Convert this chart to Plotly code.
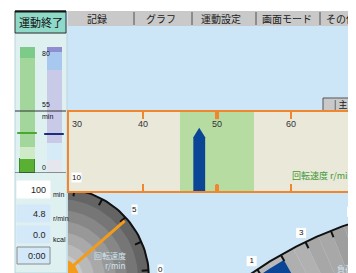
import numpy as np
import plotly.graph_objects as go

W, H = 356, 273          # browser window (screen pixels)
OFF = 8                  # default page margin around the figure
FW, FH = W - OFF, H - OFF

# ---------------- data ----------------
tab_labels = ["記録", "グラフ", "運動設定", "画面モード", "その他"]
end_button_label = "運動終了"
side_button_label = "| 主"

gauge_ticks = [30, 40, 50, 60, 70]
target_zone = [45, 55]
cadence_value = 47.6
gauge_title = "回転速度 r/min"

left_bar_segments = [11.1, 9.5, 70.7, 8.7]
right_bar_segments = [10.3, 13.5, 57.9, 14.3, 4.0]
bar_marker_levels = [31.7, 31.0]
level_lines = [0, 49.2]
level_label_text = ["80", "55", "min", "0"]
level_label_values = [95, 54, 45, 4]

readout_values = ["100", "4.8", "0.0", "0:00"]
readout_units = ["min", "r/min", "kcal", ""]

speed_dial_ticks = [0, 2.5, 5, 7.5, 10, 12.5]
speed_dial_labels = [0, 5, 10]
speed_dial_value = 4.8
speed_dial_title = ["回転速度", "r/min"]

load_dial_ticks = [0, 1, 2, 3, 4, 5, 6]
load_dial_labels = [1, 3, 5]
load_dial_value = 2.0
load_dial_title = "負荷"

# ---------------- styles / geometry ----------------
BG = "#cde6f7"
ORANGE = "#f0862e"
JP = "Noto Sans CJK JP"
NUM = "Liberation Sans"

GX0, GTOP, GBOT = 69, 112, 191
PX_PER_UNIT = 7.4
gx_range = [gauge_ticks[0], gauge_ticks[0] + (W - GX0) / PX_PER_UNIT]

SD_C, SD_R = (59.0, 278.0), 90.0
LD_C, LD_R = (479.3, 602.2), 400.0


def sd_angle(v):
    return np.radians(5 + 7.5 * np.asarray(v, dtype=float))


def ld_angle(v):
    return np.radians(127.7 - 3.98 * np.asarray(v, dtype=float))


def polar(c, r, a):
    return c[0] + r * np.cos(a), c[1] - r * np.sin(a)


def px(x):
    return (x - OFF) / FW


def py(y):
    return 1 - (y - OFF) / FH


def sector(c, r0, r1, a0, a1, n=60):
    a = np.linspace(a0, a1, n)
    xo, yo = polar(c, r1, a)
    xi, yi = polar(c, r0, a[::-1])
    return np.concatenate([xo, xi, xo[:1]]), np.concatenate([yo, yi, yo[:1]])


fig = go.Figure()


def poly(xs, ys, color, xa="x", ya="y"):
    fig.add_trace(go.Scatter(x=xs, y=ys, mode="lines", fill="toself", fillcolor=color,
                             line=dict(width=0, color=color), hoverinfo="skip",
                             showlegend=False, xaxis=xa, yaxis=ya))


def lines(segs, color, width, xa="x", ya="y"):
    xs, ys = [], []
    for (x0, y0), (x1, y1) in segs:
        xs += [x0, x1, None]
        ys += [y0, y1, None]
    fig.add_trace(go.Scatter(x=xs, y=ys, mode="lines", line=dict(color=color, width=width),
                             hoverinfo="skip", showlegend=False, xaxis=xa, yaxis=ya))


# ---------------- right (load) dial ----------------
wedge_vals = np.arange(-2.0, 9.0, 0.5)
for i, v in enumerate(wedge_vals[:-1]):
    f = min(max((v + 0.5) / 7.0, 0), 1)
    g = int(196 - 58 * f)
    if i % 2:
        g += 6
    xs, ys = sector(LD_C, 0, LD_R, ld_angle(v), ld_angle(v + 0.5), n=8)
    poly(xs, ys, f"rgb({g},{g},{g})")
xs, ys = sector(LD_C, LD_R - 40, LD_R - 6, ld_angle(-1), ld_angle(load_dial_value))
poly(xs, ys, "#0b4596")
arc = np.linspace(ld_angle(-2), ld_angle(9), 200)
ax_, ay_ = polar(LD_C, LD_R, arc)
fig.add_trace(go.Scatter(x=ax_, y=ay_, mode="lines", line=dict(color="#111", width=2),
                         hoverinfo="skip", showlegend=False))
lines([(polar(LD_C, LD_R, ld_angle(v)), polar(LD_C, LD_R - 7, ld_angle(v))) for v in load_dial_ticks],
      "#111", 2)
# load dial labels (white boxes with numbers), kept inside the window
lx, ly = polar(LD_C, LD_R + 10, ld_angle(load_dial_labels))
lx = np.minimum(lx, W - 4)
fig.add_trace(go.Scatter(x=lx, y=ly, mode="markers+text", text=[str(s) for s in load_dial_labels],
                         textposition="middle center", cliponaxis=False,
                         marker=dict(symbol="square", size=10, color="white", line=dict(width=0)),
                         textfont=dict(size=8, color="#111", family=NUM),
                         hoverinfo="skip", showlegend=False))

# ---------------- left (speed) dial ----------------
ring_radii = [SD_R, 79, 68, 57, 46, 35, 24]
ring_cols = ["#646464", "#767676", "#878787", "#989898", "#a9a9a9", "#b9b9b9", "#c8c8c8"]
t = np.linspace(0, 2 * np.pi, 180)
for r, c in zip(ring_radii, ring_cols):
    xs, ys = polar(SD_C, r, t)
    poly(xs, ys, c)
ax_, ay_ = polar(SD_C, SD_R, t)
fig.add_trace(go.Scatter(x=ax_, y=ay_, mode="lines", line=dict(color="#111", width=2),
                         hoverinfo="skip", showlegend=False))
lines([(polar(SD_C, SD_R, sd_angle(v)), polar(SD_C, SD_R - 7, sd_angle(v))) for v in speed_dial_ticks],
      "#111", 2)
lines([(SD_C, polar(SD_C, SD_R - 3, sd_angle(speed_dial_value)))], "#f39c1a", 3)
xs, ys = polar(SD_C, 20, t)
poly(xs, ys, "#f39c1a")

# ---------------- main gauge ----------------
v = cadence_value
bw, sh, tip = 1.6, 0.68, 0.80
fig.add_trace(go.Scatter(x=[v - bw / 2, v - bw / 2, v, v + bw / 2, v + bw / 2, v - bw / 2],
                         y=[0, sh, tip, sh, 0, 0], mode="lines", fill="toself",
                         fillcolor="#0b4596", line=dict(width=0), hoverinfo="skip",
                         showlegend=False, xaxis="x2", yaxis="y2"))

# ---------------- left bars ----------------
left_cols = ["#5ab033", "#cfeac6", "#a3d69b", "#7dcb89"]
right_cols = ["#e6e6ee", "#d6eaf8", "#c9c9e8", "#a9c8ef", "#8e8ed0"]
for i, (s, c) in enumerate(zip(left_bar_segments, left_cols)):
    fig.add_trace(go.Bar(x=[0], y=[s], width=0.52, marker=dict(color=c, line=dict(
        width=1 if i == 0 else 0, color="#3a8a2a")), xaxis="x3", yaxis="y3",
        showlegend=False, hoverinfo="skip"))
for s, c in zip(right_bar_segments, right_cols):
    fig.add_trace(go.Bar(x=[1], y=[s], width=0.52, marker=dict(color=c, line=dict(width=0)),
                         xaxis="x3", yaxis="y3", showlegend=False, hoverinfo="skip"))
fig.add_trace(go.Scatter(x=[0, 1], y=bar_marker_levels, mode="markers",
                         marker=dict(symbol="line-ew", size=14,
                                     line=dict(width=2, color=["#4aa832", "#1d2f7a"])),
                         xaxis="x3", yaxis="y3", showlegend=False, hoverinfo="skip"))

# ---------------- shapes (UI chrome) ----------------
shapes = []


def rect(x0, y0, x1, y1, fill, line=None, lw=0, layer="below"):
    shapes.append(dict(type="rect", xref="paper", yref="paper", x0=px(x0), x1=px(x1),
                       y0=py(y0), y1=py(y1), fillcolor=fill, layer=layer,
                       line=dict(width=lw, color=line or fill)))


rect(OFF, OFF, W, 11, "white")
rect(OFF, OFF, 15, H, "white")
rect(68, 11, W, 26, "#c9c9c9")
for sx in [134, 192, 256, 320]:
    shapes.append(dict(type="line", xref="paper", yref="paper", x0=px(sx), x1=px(sx),
                       y0=py(12), y1=py(25), line=dict(color="#505050", width=1)))
rect(15, 33, 67, H, "#dff0f1", "#b8d6de", 1)
rect(15, 11, 66, 33, "#8fd9c9", "#303030", 1)
shapes.append(dict(type="line", xref="paper", yref="paper", x0=px(15), x1=px(66),
                   y0=py(11.5), y1=py(11.5), line=dict(color="#111", width=2)))
rect(323, 98, W, 112, "#c9c9c9", "#555", 1)
# readout boxes
box_tops = [181, 205, 226, 247]
for i, top in enumerate(box_tops):
    rect(17, top, 50, top + 17, "white" if i == 0 else "#d3e9f9",
         "#8a8a8a" if i == 3 else ("white" if i == 0 else "#d3e9f9"), 1)
# gauge background & target zone
shapes.append(dict(type="rect", xref="x2 domain", yref="y2 domain", x0=0, x1=1, y0=0, y1=1,
                   fillcolor="#eae8d9", line=dict(width=0), layer="below"))
shapes.append(dict(type="rect", xref="x2", yref="y2 domain", x0=target_zone[0], x1=target_zone[1],
                   y0=0, y1=1, fillcolor="#b6dca2", line=dict(width=0), layer="below"))
shapes.append(dict(type="line", xref="x2", yref="y2 domain", x0=50, x1=50, y0=1, y1=0.91,
                   line=dict(color=ORANGE, width=4), layer="above"))
shapes.append(dict(type="line", xref="x2", yref="y2 domain", x0=50, x1=50, y0=0, y1=0.08,
                   line=dict(color=ORANGE, width=4), layer="above"))
# level lines in the left panel
for lv in level_lines:
    shapes.append(dict(type="line", xref="paper", yref="y3", x0=px(15), x1=px(66), y0=lv, y1=lv,
                       line=dict(color="#303030", width=1), layer="above"))

# ---------------- annotations ----------------
ann = []


def text(x, y, s, size=9, color="#222", xanchor="center", font=JP, bg=None, **kw):
    d = dict(x=px(x), y=py(y), xref="paper", yref="paper", text=s, showarrow=False,
             xanchor=xanchor, yanchor="middle", font=dict(size=size, color=color, family=font))
    if bg:
        d.update(bgcolor=bg, borderpad=0)
    d.update(kw)
    ann.append(d)


for lab, cx in zip(tab_labels, [97, 161, 221, 287, 341]):
    text(cx, 18.5, lab, size=10)
text(40.5, 22, end_button_label, size=11, color="#111")
text(340, 105, side_button_label, size=9)

for tv in gauge_ticks:
    if tv < gx_range[1]:
        ann.append(dict(x=tv, y=1, xref="x2", yref="y2 domain", text=str(tv), showarrow=False,
                        xanchor="left" if tv == gauge_ticks[0] else "center", yanchor="top",
                        yshift=-5, xshift=1 if tv == gauge_ticks[0] else 0,
                        font=dict(size=9, color="#333", family=NUM)))
    else:
        ann.append(dict(x=1, y=1, xref="x2 domain", yref="y2 domain", text=str(tv), showarrow=False,
                        xanchor="left", yanchor="top", yshift=-5, xshift=-5,
                        font=dict(size=9, color="#333", family=NUM)))
ann.append(dict(x=1, y=0, xref="x2 domain", yref="y2 domain", text=gauge_title, showarrow=False,
                xanchor="right", yanchor="bottom", yshift=7, xshift=-1,
                font=dict(size=9, color="#3f9a3a", family=JP)))

for s, lv in zip(level_label_text, level_label_values):
    ann.append(dict(x=px(40), y=lv, xref="paper", yref="y3", text=s, showarrow=False,
                    font=dict(size=7, color="#111", family=NUM)))

for i, (val, unit) in enumerate(zip(readout_values, readout_units)):
    yc = box_tops[i] + 9
    text(48, yc, val, size=9, color="#222", xanchor="right", font=NUM)
    if unit:
        text(51, yc + 4, unit, size=7, color="#111", xanchor="left", font=NUM)

for lv in speed_dial_labels:
    x, y = polar(SD_C, 102, sd_angle(lv))
    text(float(x), float(y), str(lv), size=8, color="#111", font=NUM, bg="white")
text(128, 255, speed_dial_title[0], size=8, color="#cfe6ef", xanchor="right")
text(128, 265, speed_dial_title[1], size=8, color="#cfe6ef", xanchor="right")
text(345, 268, load_dial_title, size=8, color="#d3e6f0")

# ---------------- layout ----------------
hidden = dict(visible=False, showgrid=False, zeroline=False, fixedrange=True)
fig.update_layout(
    width=FW, height=FH, margin=dict(l=0, r=0, t=0, b=0),
    paper_bgcolor=BG, plot_bgcolor="rgba(0,0,0,0)",
    barmode="stack", bargap=0, showlegend=False,
    shapes=shapes, annotations=ann,
    xaxis=dict(domain=[px(68), 1], range=[68, W], **hidden),
    yaxis=dict(domain=[0, py(GBOT)], range=[H, GBOT], **hidden),
    xaxis2=dict(domain=[px(GX0), 1], range=gx_range, anchor="y2", side="top",
                showline=True, linecolor=ORANGE, linewidth=2, mirror="ticks",
                ticks="inside", ticklen=7, tickwidth=2, tickcolor=ORANGE,
                tickvals=gauge_ticks, showticklabels=False, showgrid=False, zeroline=False),
    yaxis2=dict(domain=[py(GBOT), py(GTOP)], range=[0, 1], anchor="x2",
                showline=True, linecolor=ORANGE, linewidth=2, ticks="",
                showticklabels=False, showgrid=False, zeroline=False),
    xaxis3=dict(domain=[px(13.5), px(67.5)], range=[-0.5, 1.5], anchor="y3", **hidden),
    yaxis3=dict(domain=[py(173), py(47)], range=[0, 100], anchor="x3", **hidden),
)

fig.write_html("out.html")
